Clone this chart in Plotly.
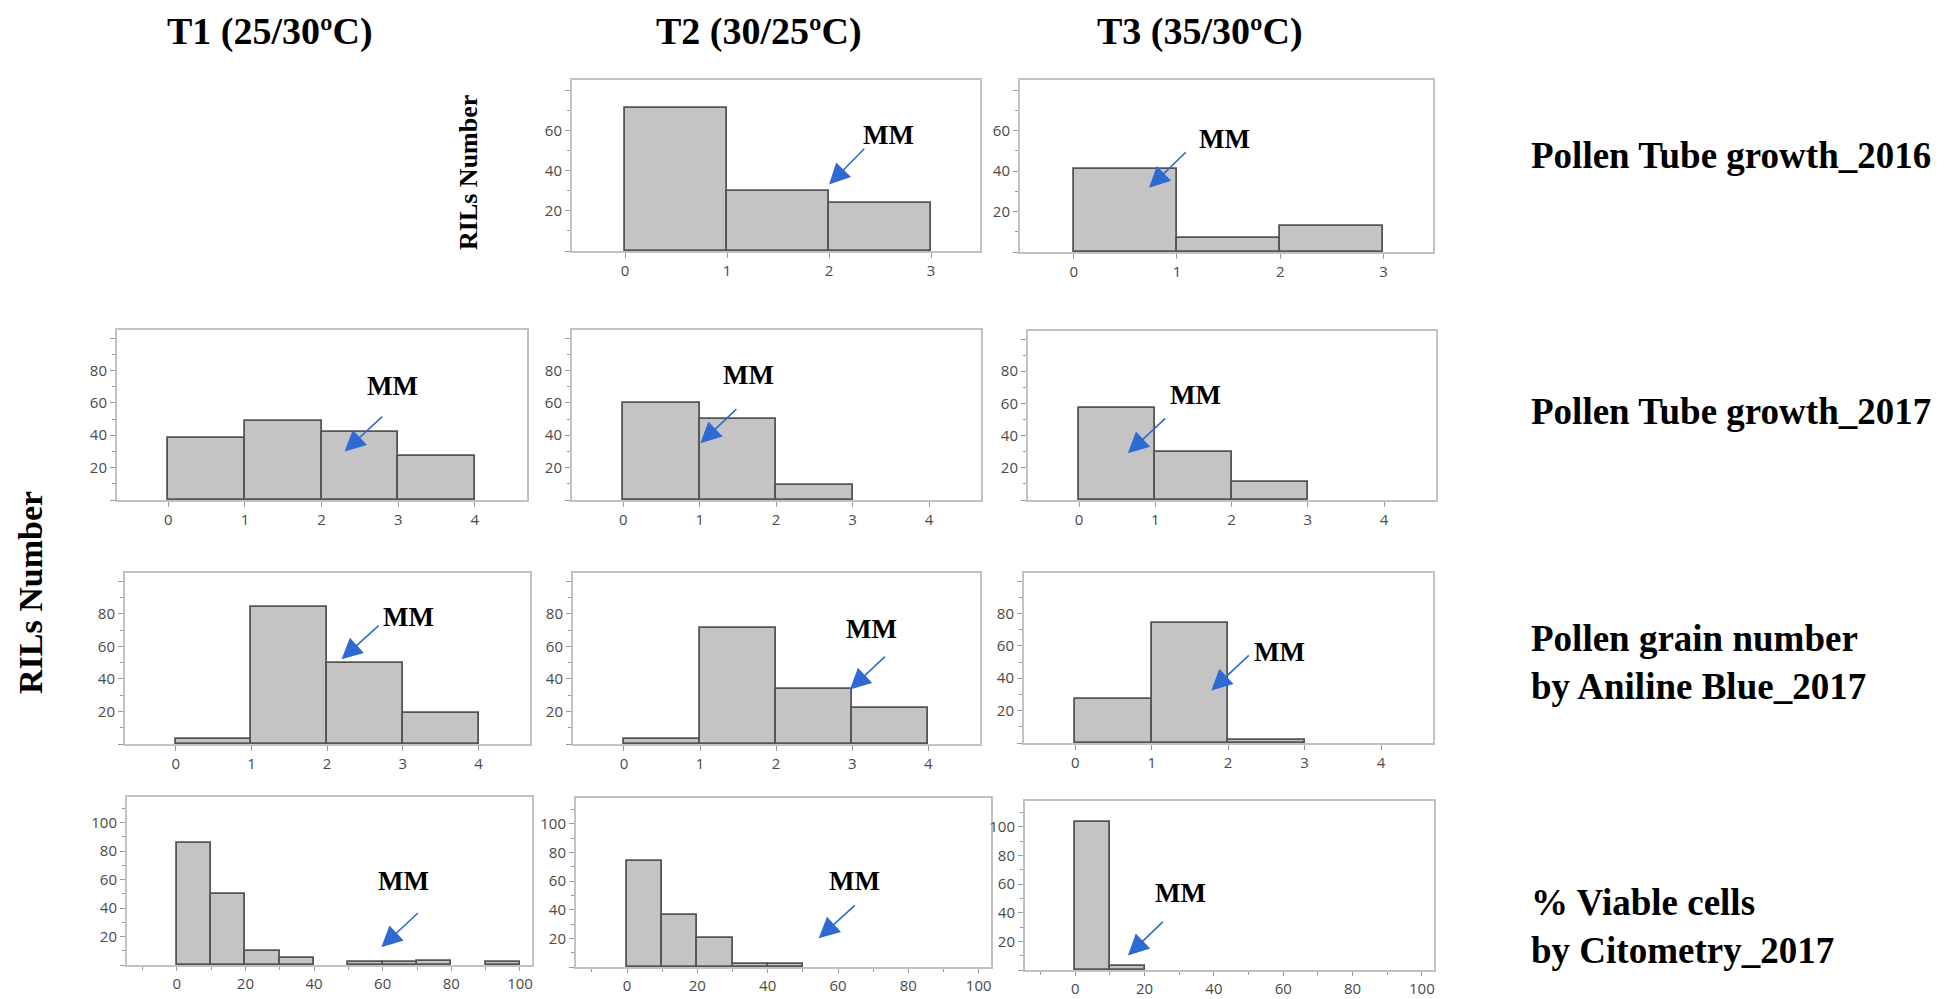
import plotly.graph_objects as go

# histogram bin edges and RIL counts
tube_edges_2016 = [0, 1, 2, 3]
tube_2016_t2 = [71, 30, 24]
tube_2016_t3 = [41, 7, 13]

tube_edges_2017 = [0, 1, 2, 3, 4]
tube_2017_t1 = [38, 49, 42, 27]
tube_2017_t2 = [60, 50, 9, 0]
tube_2017_t3 = [57, 30, 11, 0]

grain_edges = [0, 1, 2, 3, 4]
grain_t1 = [3, 84, 50, 19]
grain_t2 = [3, 71, 34, 22]
grain_t3 = [27, 74, 2, 0]

viable_edges = [0, 10, 20, 30, 40, 50, 60, 70, 80, 90, 100]
viable_t1 = [86, 50, 10, 5, 0, 2, 2, 3, 0, 2]
viable_t2 = [74, 36, 20, 2, 2, 0, 0, 0, 0, 0]
viable_t3 = [103, 3, 0, 0, 0, 0, 0, 0, 0, 0]

col_titles = ["T1 (25/30ºC)", "T2 (30/25ºC)", "T3 (35/30ºC)"]
row_titles = ["Pollen Tube growth_2016", "Pollen Tube growth_2017",
              "Pollen grain number<br>by Aniline Blue_2017",
              "% Viable cells<br>by Citometry_2017"]

W, H = 1950, 999
BLUE = "#2f6ad3"
SERIF = "Liberation Serif"


def px(x):
    return x / W


def py(y):
    return 1 - y / H


# panel boxes in pixels: left, right, top, bottom
panels = [
    dict(edges=tube_edges_2016, counts=tube_2016_t2, box=(564, 972, 72, 243), row=0,
         mm=((2.0, 33), (2.36, 51.6), (2.58, 57.5))),
    dict(edges=tube_edges_2016, counts=tube_2016_t3, box=(1012, 1425, 72, 244), row=0,
         mm=((0.73, 31.7), (1.1, 50), (1.46, 56))),
    dict(edges=tube_edges_2017, counts=tube_2017_t1, box=(109, 519, 322, 492), row=1,
         mm=((2.3, 30), (2.81, 52.4), (2.92, 70.3))),
    dict(edges=tube_edges_2017, counts=tube_2017_t2, box=(564, 973, 322, 492), row=1,
         mm=((1.01, 35), (1.5, 57), (1.64, 77.5))),
    dict(edges=tube_edges_2017, counts=tube_2017_t3, box=(1020, 1428, 323, 492), row=1,
         mm=((0.64, 29), (1.15, 51.6), (1.52, 65))),
    dict(edges=grain_edges, counts=grain_t1, box=(117, 522, 565, 736), row=2,
         mm=((2.19, 52), (2.7, 73.5), (3.08, 78))),
    dict(edges=grain_edges, counts=grain_t2, box=(565, 972, 565, 736), row=2,
         mm=((2.97, 33.4), (3.45, 54.5), (3.25, 70.4))),
    dict(edges=grain_edges, counts=grain_t3, box=(1016, 1425, 565, 735), row=2,
         mm=((1.78, 32.4), (2.29, 55), (2.67, 56))),
    dict(edges=viable_edges, counts=viable_t1, box=(119, 524, 789, 957), row=3,
         mm=((59.6, 12.5), (70.7, 37.5), (66.2, 59))),
    dict(edges=viable_edges, counts=viable_t2, box=(568, 983, 790, 959), row=3,
         mm=((54.5, 20), (65.2, 44), (64.8, 60))),
    dict(edges=viable_edges, counts=viable_t3, box=(1017, 1426, 793, 962), row=3,
         mm=((15.2, 10.2), (25.7, 34.6), (30.4, 53.7))),
]

# per-row axis settings
row_axes = [
    dict(xr=[-0.52, 3.48], yr=[0, 85], xt=[0, 1, 2, 3], yt=[0, 20, 40, 60, 80], xminor=None),
    dict(xr=[-0.67, 4.68], yr=[0, 105], xt=[0, 1, 2, 3, 4], yt=[0, 20, 40, 60, 80, 100], xminor=None),
    dict(xr=[-0.67, 4.68], yr=[0, 105], xt=[0, 1, 2, 3, 4], yt=[0, 20, 40, 60, 80, 100], xminor=None),
    dict(xr=[-14.5, 103.5], yr=[0, 118], xt=[0, 20, 40, 60, 80, 100], yt=[0, 20, 40, 60, 80, 100], xminor=10),
]
y_labels = [
    ["", "20", "40", "60", ""],
    ["", "20", "40", "60", "80", ""],
    ["", "20", "40", "60", "80", ""],
    ["", "20", "40", "60", "80", "100"],
]

fig = go.Figure()
annotations = []
tick_font = dict(family="Open Sans", size=15, color="#4a4a4a")

for i, p in enumerate(panels):
    n = "" if i == 0 else str(i + 1)
    ra = row_axes[p["row"]]
    e = p["edges"]
    xs, ys, ws = [], [], []
    for k, c in enumerate(p["counts"]):
        if c > 0:
            xs.append((e[k] + e[k + 1]) / 2)
            ys.append(c)
            ws.append(e[k + 1] - e[k])
    fig.add_trace(go.Bar(
        x=xs, y=ys, width=ws, xaxis="x" + n, yaxis="y" + n,
        marker=dict(color="#c4c4c4", line=dict(color="#555555", width=1.8)),
        showlegend=False, hoverinfo="x+y",
    ))
    l, r, t, b = p["box"]
    common = dict(showline=True, linecolor="#c2c2c2", linewidth=2, mirror=True,
                  showgrid=False, zeroline=False, ticks="outside", ticklen=5,
                  tickcolor="#9a9a9a", tickfont=tick_font, fixedrange=True)
    xa = dict(common, domain=[px(l), px(r)], range=ra["xr"], anchor="y" + n,
              tickvals=ra["xt"])
    if ra["xminor"]:
        xa["minor"] = dict(dtick=ra["xminor"], ticklen=3, tickcolor="#9a9a9a", ticks="outside")
        xa["ticklen"] = 4
    ya = dict(common, domain=[py(b), py(t)], range=ra["yr"], anchor="x" + n,
              tickvals=ra["yt"], ticktext=y_labels[p["row"]],
              minor=dict(dtick=10, ticklen=3, tickcolor="#9a9a9a", ticks="outside"))
    fig.update_layout(**{"xaxis" + n: xa, "yaxis" + n: ya})

    (hx, hy), (tx, ty), (mx, my) = p["mm"]
    annotations.append(dict(
        x=hx, y=hy, ax=tx, ay=ty, xref="x" + n, yref="y" + n,
        axref="x" + n, ayref="y" + n, text="", showarrow=True,
        arrowhead=2, arrowsize=2.6, arrowwidth=1.6, arrowcolor=BLUE, standoff=0,
    ))
    annotations.append(dict(
        x=mx, y=my, xref="x" + n, yref="y" + n, text="<b>MM</b>", showarrow=False,
        font=dict(family=SERIF, size=27, color="black"), xanchor="center", yanchor="middle",
    ))

# column headers
for title, cx in zip(col_titles, [262, 751, 1192]):
    annotations.append(dict(x=px(cx), y=py(23), xref="paper", yref="paper",
                            text="<b>%s</b>" % title, showarrow=False,
                            xanchor="center", yanchor="middle",
                            font=dict(family=SERIF, size=38, color="black")))

# row labels on the right
for title, cy in zip(row_titles, [147, 403, 654, 918]):
    annotations.append(dict(x=px(1521), y=py(cy), xref="paper", yref="paper",
                            text="<b>%s</b>" % title, showarrow=False, align="left",
                            xanchor="left", yanchor="middle",
                            font=dict(family=SERIF, size=37, color="black")))

# y axis titles
annotations.append(dict(x=px(22), y=py(585), xref="paper", yref="paper",
                        text="<b>RILs Number</b>", showarrow=False, textangle=-90,
                        xanchor="center", yanchor="middle",
                        font=dict(family=SERIF, size=34, color="black")))
annotations.append(dict(x=px(461), y=py(165), xref="paper", yref="paper",
                        text="<b>RILs Number</b>", showarrow=False, textangle=-90,
                        xanchor="center", yanchor="middle",
                        font=dict(family=SERIF, size=26, color="black")))

fig.update_layout(
    width=W, height=H, margin=dict(l=0, r=0, t=0, b=0),
    paper_bgcolor="white", plot_bgcolor="white",
    annotations=annotations, bargap=0, showlegend=False,
)

fig.write_html("out.html")
